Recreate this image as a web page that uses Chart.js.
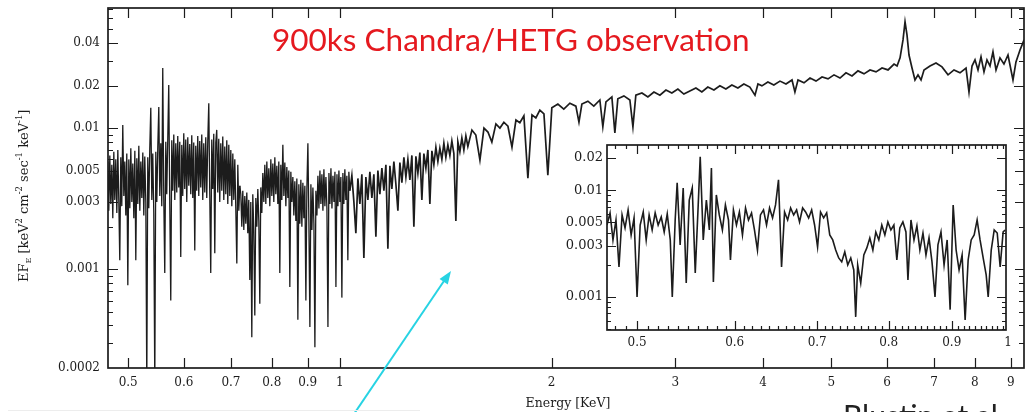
<!DOCTYPE html>
<html lang="en">
<head>
<meta charset="UTF-8">
<title>900ks Chandra/HETG observation</title>
<script src="https://cdn.jsdelivr.net/npm/chart.js@4.4.0/dist/chart.umd.min.js"></script>
<style>
  html, body { margin: 0; padding: 0; background: #fff; }
  #wrap { position: relative; width: 1025px; height: 412px; overflow: hidden; }
  #mainChart { position: absolute; left: 0; top: 0; }
  #insetChart { position: absolute; left: 557px; top: 140px; }
</style>
</head>
<body>
<div id="wrap">
  <canvas id="mainChart" width="1025" height="412"></canvas>
  <canvas id="insetChart" width="458" height="216"></canvas>
</div>
<script>
// ---- main panel: 0.47 - 0.72 keV (dense soft band, fine bins)
const mainEnergyA = [
  0.4677,0.4692,0.4708,0.4723,0.4739,0.4754,0.4770,0.4785,0.4801,0.4817,
  0.4833,0.4849,0.4864,0.4880,0.4896,0.4912,0.4929,0.4945,0.4961,0.4977,
  0.4994,0.5010,0.5027,0.5043,0.5060,0.5076,0.5093,0.5110,0.5126,0.5143,
  0.5160,0.5177,0.5194,0.5211,0.5228,0.5245,0.5262,0.5279,0.5297,0.5314,
  0.5331,0.5349,0.5366,0.5384,0.5402,0.5419,0.5437,0.5455,0.5473,0.5491,
  0.5509,0.5527,0.5545,0.5563,0.5581,0.5599,0.5618,0.5636,0.5655,0.5673,
  0.5692,0.5710,0.5729,0.5748,0.5767,0.5786,0.5805,0.5824,0.5843,0.5862,
  0.5881,0.5900,0.5920,0.5939,0.5959,0.5978,0.5998,0.6017,0.6037,0.6057,
  0.6077,0.6097,0.6117,0.6137,0.6157,0.6177,0.6197,0.6218,0.6238,0.6258,
  0.6279,0.6300,0.6320,0.6341,0.6362,0.6383,0.6404,0.6425,0.6446,0.6467,
  0.6488,0.6510,0.6531,0.6552,0.6574,0.6595,0.6617,0.6639,0.6661,0.6682,
  0.6704,0.6726,0.6748,0.6771,0.6793,0.6815,0.6838,0.6860,0.6883,0.6905,
  0.6928,0.6951,0.6974,0.6997,0.7020,0.7043,0.7066,0.7089,0.7112,0.7136,
  0.7159,0.7183,0.7206
];
const mainFluxA = [
  0.0058,0.0026,0.0064,0.0029,0.0055,0.0023,0.0068,0.0031,0.0060,0.0025,
  0.0070,0.0030,0.00116,0.0062,0.0028,0.0105,0.0033,0.0058,0.0024,0.0066,
  0.00077,0.0060,0.0027,0.0072,0.0030,0.0056,0.0023,0.0069,0.00116,0.0061,
  0.0029,0.0075,0.0026,0.0058,0.0032,0.0067,0.0024,0.0063,0.0030,0.00015,
  0.0062,0.0027,0.0071,0.0139,0.0031,0.0066,0.0025,0.00015,0.0068,0.0030,
  0.0074,0.0141,0.0033,0.0078,0.0028,0.0266,0.0032,0.00094,0.0080,0.0034,
  0.0085,0.0202,0.0030,0.00060,0.0082,0.0036,0.0090,0.0031,0.0078,0.0035,
  0.0088,0.0038,0.0080,0.00122,0.0076,0.0033,0.0092,0.0037,0.0083,0.0030,
  0.0086,0.0039,0.0077,0.0034,0.0089,0.0032,0.0079,0.00136,0.0075,0.0036,
  0.0088,0.0033,0.0081,0.0038,0.0090,0.0031,0.0078,0.0035,0.0086,0.0032,
  0.0080,0.0150,0.0034,0.00094,0.0083,0.0037,0.0091,0.00130,0.0079,0.0097,
  0.0035,0.0084,0.0030,0.0078,0.0036,0.0087,0.0031,0.0074,0.0034,0.0082,
  0.0029,0.0076,0.0033,0.0070,0.0028,0.0066,0.0031,0.0060,0.0027,0.00110,
  0.0055,0.0026,0.0039
];

// ---- main panel: 0.72 - 1.03 keV (absorption trough)
const mainEnergyB = [
  0.7206,0.7230,0.7253,0.7277,0.7301,0.7325,0.7349,0.7373,0.7397,0.7421,
  0.7446,0.7470,0.7495,0.7519,0.7544,0.7569,0.7594,0.7619,0.7644,0.7669,
  0.7694,0.7719,0.7745,0.7770,0.7796,0.7821,0.7847,0.7873,0.7898,0.7924,
  0.7950,0.7977,0.8003,0.8029,0.8055,0.8082,0.8108,0.8135,0.8162,0.8188,
  0.8215,0.8242,0.8269,0.8297,0.8324,0.8351,0.8379,0.8406,0.8434,0.8461,
  0.8489,0.8517,0.8545,0.8573,0.8601,0.8629,0.8658,0.8686,0.8715,0.8743,
  0.8772,0.8801,0.8830,0.8859,0.8888,0.8917,0.8947,0.8976,0.9006,0.9035,
  0.9065,0.9095,0.9125,0.9155,0.9185,0.9215,0.9245,0.9276,0.9306,0.9337,
  0.9368,0.9398,0.9429,0.9460,0.9491,0.9522,0.9554,0.9585,0.9617,0.9648,
  0.9680,0.9712,0.9744,0.9776,0.9808,0.9840,0.9872,0.9905,0.9937,0.9969,
  1.0000,1.0033,1.0066,1.0099,1.0132,1.0165,1.0198,1.0232,1.0265,1.0299,
  1.0333
];
const mainFluxB = [
  0.0039,0.0034,0.0020,0.0036,0.0019,0.0033,0.0021,0.0035,0.0018,0.0031,
  0.00084,0.0030,0.00033,0.0034,0.0019,0.00047,0.0032,0.0020,0.0037,0.0022,
  0.00057,0.0038,0.0025,0.0048,0.0030,0.0055,0.0029,0.0058,0.0032,0.0052,
  0.0028,0.0060,0.0033,0.0056,0.0030,0.0062,0.0034,0.0054,0.0029,0.0058,
  0.00094,0.0055,0.0031,0.0076,0.0033,0.0057,0.0028,0.0053,0.0032,0.0050,
  0.00075,0.0049,0.0030,0.0045,0.0024,0.0042,0.0022,0.0044,0.00044,0.0040,
  0.0021,0.0043,0.0020,0.0041,0.0023,0.0039,0.00060,0.0037,0.0078,0.0022,
  0.00039,0.0040,0.0019,0.0038,0.0021,0.00028,0.0036,0.0024,0.0046,0.0027,
  0.0050,0.0029,0.0047,0.0026,0.0051,0.0028,0.0045,0.0027,0.00039,0.0048,
  0.0029,0.0052,0.0027,0.0046,0.0030,0.0049,0.00075,0.0047,0.0028,0.0050,
  0.0030,0.0045,0.00063,0.0048,0.0029,0.0051,0.0031,0.0046,0.00116,0.0049,
  0.0036
];

// ---- main panel: 1.03 - 9.4 keV (rising continuum, Fe K line)
const mainEnergyHigh = [
  1.0333,
  1.0401,1.0470,1.0538,1.0608,1.0677,1.0747,1.0818,1.0889,1.0961,1.1033,
  1.1105,1.1178,1.1252,1.1326,1.1400,1.1475,1.1551,1.1627,1.1703,1.1780,
  1.1857,1.1935,1.2014,1.2093,1.2172,1.2252,1.2333,1.2414,1.2495,1.2577,
  1.2660,1.2743,1.2827,1.2911,1.2996,1.3081,1.3167,1.3254,1.3341,1.3428,
  1.3517,1.3605,1.3695,1.3785,1.3875,1.3966,1.4058,1.4150,1.4243,1.4337,
  1.4431,1.4526,1.4621,1.4717,1.4814,1.4911,1.5009,1.5108,1.5207,
  1.541,1.561,1.582,1.603,1.624,1.645,1.667,1.689,1.711,
  1.734,1.757,1.780,1.803,1.827,1.851,1.876,1.900,1.925,1.951,
  1.976,2.002,2.042,2.082,2.124,2.166,2.188,2.209,2.253,2.297,
  2.343,2.366,2.390,2.437,2.461,2.485,2.535,2.585,2.611,2.636,
  2.689,2.742,2.797,2.852,2.909,2.966,3.025,3.085,3.146,3.209,
  3.272,3.337,3.404,3.471,3.540,3.610,3.682,3.755,3.829,3.894,
  3.932,3.983,4.062,4.142,4.226,4.310,4.396,4.438,4.483,4.572,
  4.663,4.755,4.850,4.946,5.044,5.144,5.246,5.350,5.456,5.565,
  5.675,5.788,5.903,6.020,6.140,6.201,6.262,6.323,6.365,6.406,
  6.448,6.512,6.576,6.641,6.707,6.773,6.907,7.044,7.184,7.327,
  7.472,7.620,7.772,7.848,7.926,8.004,8.083,8.163,8.243,8.324,
  8.407,8.489,8.574,8.686,8.800,8.917,9.064,9.153,9.275,9.40
];
const mainFluxHigh = [
  0.0036,
  0.0046,0.0030,0.0018,0.0044,0.0029,0.0047,0.0012,0.0045,0.0031,0.0049,
  0.0032,0.0047,0.0017,0.0050,0.0034,0.0052,0.0036,0.0055,0.0014,0.0054,
  0.0037,0.0058,0.0040,0.0026,0.0057,0.0041,0.0062,0.0045,0.0060,0.0043,
  0.0064,0.0020,0.0063,0.0048,0.0067,0.0031,0.0066,0.0052,0.0070,0.0029,
  0.0069,0.0055,0.0073,0.0058,0.0072,0.0060,0.0078,0.0062,0.0076,0.0064,
  0.0081,0.0066,0.0022,0.0080,0.0068,0.0085,0.0070,0.0088,0.0074,
  0.00968,0.00892,0.00593,0.0100,0.00937,0.00796,0.0107,0.0100,0.0110,
  0.0103,0.00733,0.0114,0.0109,0.0122,0.00442,0.0124,0.0118,0.0134,0.0126,
  0.00464,0.0139,0.0148,0.0136,0.0150,0.0143,0.0110,0.0148,0.0155,0.0143,
  0.0158,0.0102,0.0153,0.0166,0.00922,0.0161,0.0169,0.0158,0.0102,0.0171,
  0.0177,0.0166,0.0180,0.0171,0.0186,0.0177,0.0189,0.0174,0.0183,0.0192,
  0.0180,0.0195,0.0186,0.0199,0.0189,0.0202,0.0192,0.0205,0.0195,0.0171,
  0.0205,0.0199,0.0212,0.0202,0.0215,0.0205,0.0219,0.0180,0.0219,0.0209,
  0.0226,0.0215,0.0230,0.0223,0.0238,0.0226,0.0246,0.0234,0.0254,0.0242,
  0.0258,0.0250,0.0266,0.0258,0.0284,0.0275,0.0314,0.0421,0.0565,0.0457,
  0.0329,0.0266,0.0219,0.0238,0.0219,0.0258,0.0275,0.0289,0.0271,0.0238,
  0.0258,0.0246,0.0266,0.0180,0.0275,0.0304,0.0258,0.0319,0.0250,0.0304,
  0.0275,0.0346,0.0258,0.0314,0.0284,0.0329,0.0219,0.0294,0.0357,0.0421
];

// ---- inset: zoom on 0.47 - 1.0 keV
const insetEnergy = [
  0.4727,0.4754,0.4780,0.4807,0.4834,0.4862,0.4889,0.4917,0.4945,0.4972,
  0.5000,0.5029,0.5058,0.5086,0.5114,0.5143,0.5172,0.5201,0.5231,0.5260,
  0.5290,0.5320,0.5340,0.5369,0.5389,0.5419,0.5450,0.5481,0.5512,0.5543,
  0.5574,0.5605,0.5626,0.5658,0.5691,0.5723,0.5745,0.5766,0.5798,0.5830,
  0.5864,0.5897,0.5931,0.5953,0.5986,0.6020,0.6053,0.6088,0.6123,0.6157,
  0.6192,0.6226,0.6261,0.6296,0.6332,0.6368,0.6404,0.6440,0.6476,0.6512,
  0.6549,0.6586,0.6624,0.6661,0.6699,0.6736,0.6773,0.6812,0.6850,0.6889,
  0.6928,0.6966,0.7005,0.7044,0.7085,0.7125,0.7166,0.7206,0.7246,0.7287,
  0.7328,0.7370,0.7411,0.7453,0.7495,0.7522,0.7550,0.7593,0.7637,0.7680,
  0.7723,0.7767,0.7810,0.7854,0.7898,0.7943,0.7988,0.8033,0.8078,0.8123,
  0.8168,0.8215,0.8262,0.8293,0.8340,0.8387,0.8433,0.8480,0.8529,0.8577,
  0.8626,0.8674,0.8723,0.8771,0.8821,0.8872,0.8923,0.8973,0.9024,0.9074,
  0.9124,0.9176,0.9228,0.9280,0.9333,0.9385,0.9437,0.9489,0.9544,0.9598,
  0.9634,0.9689,0.9743,0.9798,0.9852,0.9907,0.9944
];
const insetFlux = [
  0.00472,0.00612,0.00342,0.00526,0.00191,0.00586,0.00443,0.00653,0.00381,0.00549,
  0.00100,0.00472,0.00625,0.00342,0.00586,0.00424,0.00612,0.00472,0.00561,0.00406,
  0.00599,0.00342,0.00100,0.00526,0.0117,0.00307,0.0105,0.00135,0.00809,0.0105,
  0.00168,0.00727,0.0205,0.00342,0.00809,0.00424,0.0161,0.00138,0.00902,0.00586,
  0.00424,0.00727,0.00526,0.00222,0.00653,0.00472,0.00625,0.00381,0.00681,0.00526,
  0.00612,0.00424,0.00275,0.00586,0.00653,0.00472,0.00681,0.00549,0.00727,0.0125,
  0.00191,0.00625,0.00526,0.00681,0.00586,0.00653,0.00504,0.00681,0.00625,0.00549,
  0.00653,0.00472,0.00294,0.00625,0.00549,0.00612,0.00381,0.00342,0.00275,0.00232,
  0.00213,0.00264,0.00199,0.00232,0.00179,0.00065,0.00199,0.00135,0.00247,0.00288,
  0.00357,0.00275,0.00406,0.00342,0.00472,0.00381,0.00504,0.00424,0.00472,0.00222,
  0.00443,0.00504,0.00406,0.00144,0.00526,0.00342,0.00462,0.00275,0.00397,0.00247,
  0.00357,0.00213,0.00100,0.00307,0.00406,0.00199,0.00342,0.00076,0.00727,0.00275,
  0.00179,0.00247,0.00061,0.00222,0.00342,0.00381,0.00526,0.00342,0.00232,0.00161,
  0.00100,0.00275,0.00424,0.00397,0.00191,0.00406,0.00424
];

// tick labels
const mainXTicks = [0.5, 0.6, 0.7, 0.8, 0.9, 1, 2, 3, 4, 5, 6, 7, 8, 9];
const mainXLabels = ['0.5','0.6','0.7','0.8','0.9','1','2','3','4','5','6','7','8','9'];
const mainYTicks = [0.0002, 0.001, 0.003, 0.005, 0.01, 0.02, 0.04];
const mainYLabels = ['0.0002','0.001','0.003','0.005','0.01','0.02','0.04'];
const insetXTicks = [0.5, 0.6, 0.7, 0.8, 0.9, 1];
const insetXLabels = ['0.5','0.6','0.7','0.8','0.9','1'];
const insetYTicks = [0.001, 0.003, 0.005, 0.01, 0.02];
const insetYLabels = ['0.001','0.003','0.005','0.01','0.02'];

const titleText = '900ks Chandra/HETG observation';
const xTitle = 'Energy [KeV]';

const serif = '"DejaVu Serif", serif';
const ink = '#1c1c1c';

function pairs(xs, ys) {
  return xs.map((x, i) => ({ x: x, y: ys[i] }));
}

// 2..9 x 10^k between min and max, without the major ones
function logMinors(min, max, majors) {
  const out = [];
  for (let k = Math.floor(Math.log10(min)); k <= Math.ceil(Math.log10(max)); k++) {
    for (let m = 1; m <= 9; m++) {
      const v = +(m * Math.pow(10, k)).toPrecision(3);
      if (v >= min && v <= max && !majors.some(t => Math.abs(t - v) / v < 1e-6)) out.push(v);
    }
  }
  return out;
}

// inward ticks on all four sides + the box
const framePlugin = {
  id: 'frame',
  afterDatasetsDraw(chart, args, o) {
    const { ctx, chartArea: a } = chart;
    const sx = chart.scales.x, sy = chart.scales.y;
    ctx.save();
    ctx.strokeStyle = ink;
    ctx.lineWidth = 1.2;
    ctx.beginPath();
    const xt = (vals, len) => vals.forEach(v => {
      const p = Math.round(sx.getPixelForValue(v)) + 0.5;
      if (p < a.left || p > a.right) return;
      ctx.moveTo(p, a.bottom); ctx.lineTo(p, a.bottom - len);
      ctx.moveTo(p, a.top); ctx.lineTo(p, a.top + len);
    });
    const yt = (vals, len) => vals.forEach(v => {
      const p = Math.round(sy.getPixelForValue(v)) + 0.5;
      if (p < a.top || p > a.bottom) return;
      ctx.moveTo(a.left, p); ctx.lineTo(a.left + len, p);
      ctx.moveTo(a.right, p); ctx.lineTo(a.right - len, p);
    });
    xt(o.xMajor, o.majorLen);
    xt(o.xMinor, o.minorLen);
    yt(o.yMajor, o.majorLen);
    yt(o.yMinor, o.minorLen);
    ctx.stroke();
    ctx.lineWidth = 1.7;
    ctx.strokeRect(a.left, a.top, a.right - a.left, a.bottom - a.top);
    ctx.restore();
  }
};

const whiteBg = {
  id: 'whiteBg',
  beforeDraw(chart) {
    const ctx = chart.ctx;
    ctx.save();
    ctx.fillStyle = '#fff';
    ctx.fillRect(0, 0, chart.width, chart.height);
    ctx.restore();
  }
};

const annotations = {
  id: 'annotations',
  afterDraw(chart) {
    const ctx = chart.ctx;
    ctx.save();

    // red title
    ctx.font = '32px Lato, "Open Sans", sans-serif';
    const w = ctx.measureText(titleText).width;
    const size = 32 * 478 / w;
    ctx.font = size.toFixed(1) + 'px Lato, "Open Sans", sans-serif';
    ctx.fillStyle = '#e5191f';
    ctx.textBaseline = 'alphabetic';
    ctx.fillText(titleText, 272, 51);

    // x title
    ctx.fillStyle = ink;
    ctx.font = '12.5px ' + serif;
    ctx.textAlign = 'center';
    ctx.fillText(xTitle, 568, 407);

    // y title, rotated, with sub/superscripts
    ctx.textAlign = 'left';
    ctx.translate(28, 282);
    ctx.rotate(-Math.PI / 2);
    const parts = [
      { t: 'EF', s: 13, dy: 0 }, { t: 'E', s: 8, dy: 3 },
      { t: ' [keV', s: 13, dy: 0 }, { t: '2', s: 8.5, dy: -6 },
      { t: ' cm', s: 13, dy: 0 }, { t: '-2', s: 8.5, dy: -6 },
      { t: ' sec', s: 13, dy: 0 }, { t: '-1', s: 8.5, dy: -6 },
      { t: ' keV', s: 13, dy: 0 }, { t: '-1', s: 8.5, dy: -6 },
      { t: ']', s: 13, dy: 0 }
    ];
    let cx = 0;
    parts.forEach(p => {
      ctx.font = p.s + 'px ' + serif;
      ctx.fillText(p.t, cx, p.dy);
      cx += ctx.measureText(p.t).width;
    });
    ctx.setTransform(1, 0, 0, 1, 0, 0);

    // cyan arrow
    ctx.strokeStyle = '#27d3e3';
    ctx.fillStyle = '#27d3e3';
    ctx.lineWidth = 2;
    ctx.beginPath();
    ctx.moveTo(354, 414);
    ctx.lineTo(446, 278);
    ctx.stroke();
    const ang = Math.atan2(272 - 414, 451 - 354);
    ctx.beginPath();
    ctx.moveTo(451, 271);
    ctx.lineTo(451 - 13 * Math.cos(ang) + 5 * Math.sin(ang), 271 - 13 * Math.sin(ang) - 5 * Math.cos(ang));
    ctx.lineTo(451 - 13 * Math.cos(ang) - 5 * Math.sin(ang), 271 - 13 * Math.sin(ang) + 5 * Math.cos(ang));
    ctx.closePath();
    ctx.fill();

    // faint box edge bottom left
    ctx.strokeStyle = '#ededed';
    ctx.lineWidth = 1;
    ctx.beginPath();
    ctx.moveTo(8, 410.5);
    ctx.lineTo(420, 410.5);
    ctx.stroke();

    // cut-off citation
    ctx.fillStyle = '#222';
    ctx.font = '30px Lato, "Open Sans", sans-serif';
    ctx.fillText('Blustin et al.', 843, 427);

    ctx.restore();
  }
};

function fixTicks(values) {
  return scale => { scale.ticks = values.map(v => ({ value: v })); };
}

const lineStyle = { showLine: true, borderColor: ink, pointRadius: 0, clip: 0 };
const noGrid = { display: false, drawTicks: false };

new Chart(document.getElementById('mainChart'), {
  type: 'scatter',
  data: {
    datasets: [
      Object.assign({ data: pairs(mainEnergyA, mainFluxA), borderWidth: 1.3 }, lineStyle),
      Object.assign({ data: pairs(mainEnergyB, mainFluxB), borderWidth: 1.3 }, lineStyle),
      Object.assign({ data: pairs(mainEnergyHigh, mainFluxHigh), borderWidth: 1.7 }, lineStyle)
    ]
  },
  options: {
    responsive: false,
    animation: false,
    devicePixelRatio: 1,
    layout: { padding: { top: 8, right: 1, left: 0, bottom: 0 } },
    plugins: {
      legend: { display: false },
      tooltip: { enabled: false },
      frame: {
        majorLen: 10, minorLen: 5,
        xMajor: mainXTicks, xMinor: [],
        yMajor: mainYTicks, yMinor: logMinors(0.0002, 0.0708, mainYTicks)
      }
    },
    scales: {
      x: {
        type: 'logarithmic', bounds: 'data', min: 0.468, max: 9.397,
        grid: noGrid, border: { display: false },
        afterBuildTicks: fixTicks(mainXTicks),
        afterFit: s => { s.height = 44; s.paddingLeft = 0; s.paddingRight = 0; },
        ticks: {
          autoSkip: false, maxRotation: 0, minRotation: 0, padding: 8, color: ink,
          font: { family: serif, size: 12 },
          callback: (v, i) => mainXLabels[i]
        }
      },
      y: {
        type: 'logarithmic', bounds: 'data', min: 0.0002, max: 0.0708,
        grid: noGrid, border: { display: false },
        afterBuildTicks: fixTicks(mainYTicks),
        afterFit: s => { s.width = 108; s.paddingTop = 0; s.paddingBottom = 0; },
        ticks: {
          autoSkip: false, padding: 8, color: ink,
          font: { family: serif, size: 12 },
          callback: (v, i) => mainYLabels[i]
        }
      }
    }
  },
  plugins: [framePlugin, annotations]
});

new Chart(document.getElementById('insetChart'), {
  type: 'scatter',
  data: {
    datasets: [
      Object.assign({ data: pairs(insetEnergy, insetFlux), borderWidth: 1.6 }, lineStyle)
    ]
  },
  options: {
    responsive: false,
    animation: false,
    devicePixelRatio: 1,
    layout: { padding: { top: 5, right: 9, left: 0, bottom: 0 } },
    plugins: {
      legend: { display: false },
      tooltip: { enabled: false },
      frame: {
        majorLen: 9, minorLen: 4,
        xMajor: insetXTicks,
        xMinor: Array.from({ length: 52 }, (_, k) => (48 + k) / 100).filter(v => Math.round(v * 100) % 10 !== 0),
        yMajor: insetYTicks, yMinor: logMinors(0.00049, 0.0265, insetYTicks)
      }
    },
    scales: {
      x: {
        type: 'logarithmic', bounds: 'data', min: 0.4727, max: 0.996,
        grid: noGrid, border: { display: false },
        afterBuildTicks: fixTicks(insetXTicks),
        afterFit: s => { s.height = 26; s.paddingLeft = 0; s.paddingRight = 0; },
        ticks: {
          autoSkip: false, maxRotation: 0, minRotation: 0, padding: 6, color: ink,
          font: { family: serif, size: 12 },
          callback: (v, i) => insetXLabels[i]
        }
      },
      y: {
        type: 'logarithmic', bounds: 'data', min: 0.00049, max: 0.0265,
        grid: noGrid, border: { display: false },
        afterBuildTicks: fixTicks(insetYTicks),
        afterFit: s => { s.width = 50; s.paddingTop = 0; s.paddingBottom = 0; },
        ticks: {
          autoSkip: false, padding: 4, color: ink,
          font: { family: serif, size: 13 },
          callback: (v, i) => insetYLabels[i]
        }
      }
    }
  },
  plugins: [whiteBg, framePlugin]
});
</script>
</body>
</html>
